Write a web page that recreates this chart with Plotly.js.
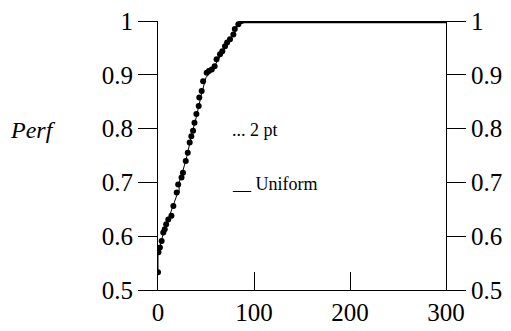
<!DOCTYPE html>
<html><head><meta charset="utf-8">
<script src="https://cdn.plot.ly/plotly-3.0.1.min.js"></script>
<style>html,body{margin:0;padding:0;background:#fff}#c{width:511px;height:331px}</style>
</head><body><div id="c"></div>
<script>
// "2 pt" series (rising part, markers)
const twoPtX = [0, 0.5, 2, 3.8, 5.5, 7, 8.5, 10.7, 14, 16, 19.5, 21, 24.5, 26, 28.9, 31, 33, 34.7, 36.5, 38, 40, 42.4, 43, 45.5, 47, 50.7, 53, 56, 59, 61, 64.6, 67, 69.8, 72, 75, 78.5, 80, 83.7, 87];
const twoPtY = [0.533, 0.570, 0.579, 0.591, 0.607, 0.613, 0.622, 0.631, 0.638, 0.656, 0.681, 0.696, 0.709, 0.718, 0.740, 0.755, 0.774, 0.786, 0.796, 0.811, 0.827, 0.842, 0.858, 0.870, 0.888, 0.904, 0.907, 0.910, 0.916, 0.929, 0.938, 0.944, 0.953, 0.960, 0.966, 0.975, 0.985, 0.994, 1.0];
// "2 pt" series plateau (dense markers at 1)
const twoPtPlateauX = [87, 300];
const twoPtPlateauY = [1, 1];
// "Uniform" series (solid line)
const uniX = [0, 0, 4, 8, 12, 16, 20, 22, 22, 26, 30, 35, 40, 45, 50, 55, 60, 65, 70, 75, 80, 85, 300];
const uniY = [0.53, 0.565, 0.595, 0.62, 0.638, 0.66, 0.678, 0.682, 0.70, 0.722, 0.748, 0.788, 0.822, 0.862, 0.895, 0.905, 0.92, 0.935, 0.952, 0.966, 0.98, 1.0, 1.0];
const yTicks = [0.5, 0.6, 0.7, 0.8, 0.9, 1];
const yTickText = ['0.5', '0.6', '0.7', '0.8', '0.9', '1'];
const xTicks = [0, 100, 200, 300];

const fam = 'Liberation Serif, Times New Roman, serif';
const traces = [
  {x: uniX, y: uniY, mode: 'lines', line: {color: '#000', width: 1}, hoverinfo: 'skip'},
  {x: twoPtX, y: twoPtY, mode: 'markers', marker: {color: '#000', size: 6}},
  {x: twoPtPlateauX, y: twoPtPlateauY, mode: 'lines', line: {color: '#000', width: 4.5}},
  {x: [0, 300], y: [0.5, 0.5], yaxis: 'y2', mode: 'markers', marker: {opacity: 0}, hoverinfo: 'skip'}
];
const yCommon = {
  range: [0.5, 1], tickvals: yTicks, ticktext: yTickText, ticks: 'outside', ticklen: 19,
  tickcolor: '#000', tickwidth: 1, showline: true, linecolor: '#000', linewidth: 1,
  showgrid: false, zeroline: false, tickfont: {family: fam, color: '#000', size: 25}, fixedrange: true
};
const layout = {
  width: 511, height: 331,
  margin: {l: 158, r: 65, t: 21, b: 41},
  paper_bgcolor: '#fff', plot_bgcolor: '#fff',
  showlegend: false,
  font: {family: fam, color: '#000', size: 14},
  xaxis: {
    range: [0, 300], tickvals: xTicks, ticks: 'inside', ticklen: 18, tickcolor: '#000',
    showline: true, linecolor: '#000', linewidth: 1, showgrid: false, zeroline: false,
    tickfont: {family: fam, color: '#000', size: 25}
  },
  yaxis: Object.assign({side: 'left'}, yCommon),
  yaxis2: Object.assign({side: 'right', overlaying: 'y'}, yCommon),
  annotations: [
    {xref: 'paper', yref: 'y', x: -0.52, y: 0.797, xanchor: 'left', yanchor: 'middle', text: '<i>Perf</i>', showarrow: false, font: {family: fam, color: '#000', size: 24}},
    {xref: 'x', yref: 'y', x: 75.5, y: 0.798, xanchor: 'left', yanchor: 'middle', text: '... 2 pt', showarrow: false, font: {family: fam, color: '#000', size: 18}},
    {xref: 'x', yref: 'y', x: 75.5, y: 0.697, xanchor: 'left', yanchor: 'middle', text: '__ Uniform', showarrow: false, font: {family: fam, color: '#000', size: 18}}
  ]
};
Plotly.newPlot('c', traces, layout, {displayModeBar: false, staticPlot: true});
</script></body></html>
